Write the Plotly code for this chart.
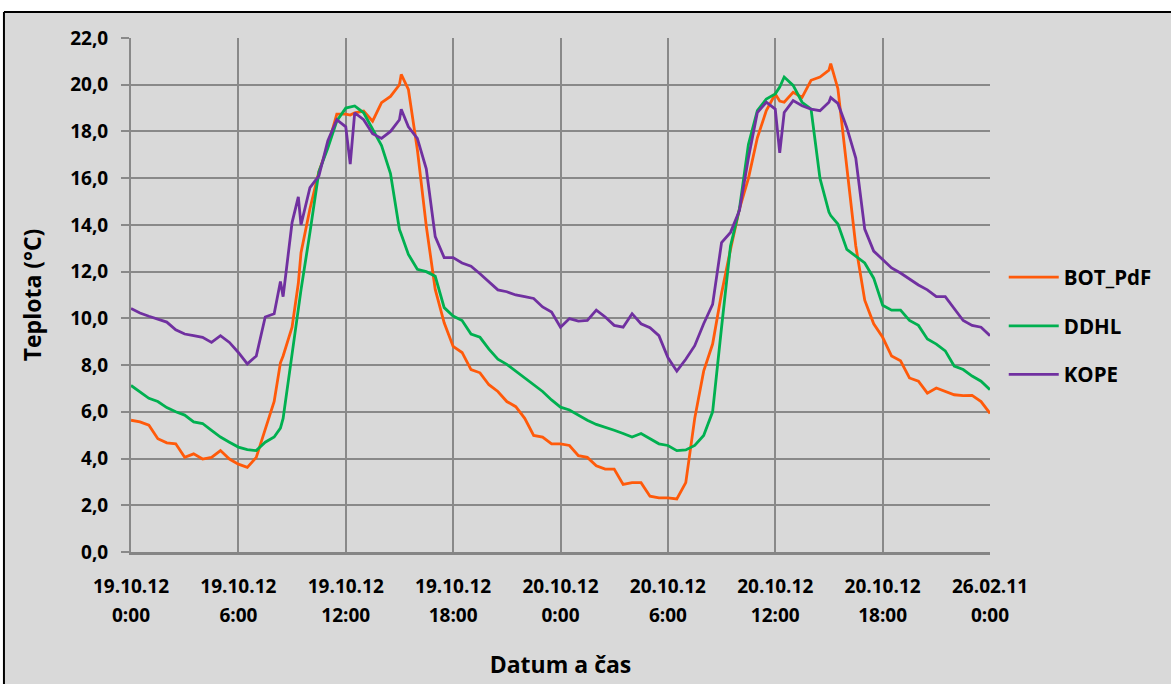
import plotly.graph_objects as go

# Measurement times in hours since 19.10.12 0:00 (half-hourly readings plus a few spikes)
HALF_HOURS = [h / 2 for h in range(97)]
EXTRA_HOURS = [8.35, 9.35, 12.25, 15.1, 36.25, 39.1]
HOURS = sorted(HALF_HOURS + EXTRA_HOURS)

BOT_PDF = [
    5.64, 5.57, 5.43, 4.85, 4.67, 4.63, 4.05, 4.20, 3.98, 4.05, 4.34, 3.98, 3.76, 3.62, 4.05, 5.21,
    6.44, 8.10, 8.39, 9.62, 11.50, 12.81, 14.69, 16.28, 17.37, 18.74, 18.74, 18.70, 18.80, 18.87,
    18.44, 19.23, 19.50, 20.00, 20.44, 19.80, 17.23, 13.95, 11.24, 9.81, 8.80, 8.54, 7.81, 7.67,
    7.16, 6.87, 6.44, 6.22, 5.72, 4.99, 4.92, 4.63, 4.63, 4.56, 4.12, 4.05, 3.69, 3.55, 3.55, 2.89,
    2.97, 2.97, 2.39, 2.32, 2.32, 2.27, 2.97, 5.72, 7.74, 8.90, 11.07, 12.95, 14.69, 15.99, 17.73,
    18.89, 19.60, 19.30, 19.25, 19.68, 19.46, 20.19, 20.33, 20.62, 20.90, 19.83, 16.57, 13.10,
    10.78, 9.77, 9.19, 8.39, 8.18, 7.45, 7.31, 6.80, 7.02, 6.87, 6.73, 6.69, 6.70, 6.44, 5.93,
]

DDHL = [
    7.13, 6.85, 6.58, 6.44, 6.18, 6.00, 5.86, 5.57, 5.50, 5.21, 4.92, 4.70, 4.49, 4.38, 4.34, 4.70,
    4.92, 5.30, 5.72, 8.47, 10.40, 11.22, 13.68, 16.28, 17.29, 18.45, 19.00, 19.05, 19.09, 18.80,
    18.09, 17.40, 16.20, 13.80, 13.60, 12.74, 12.10, 12.00, 11.80, 10.46, 10.10, 9.91, 9.33, 9.19,
    8.68, 8.25, 8.03, 7.74, 7.45, 7.16, 6.87, 6.51, 6.20, 6.08, 5.86, 5.64, 5.46, 5.35, 5.21, 5.07,
    4.92, 5.07, 4.85, 4.63, 4.56, 4.34, 4.37, 4.56, 4.99, 6.00, 9.62, 13.10, 14.69, 17.44, 18.89,
    19.39, 19.61, 19.90, 20.33, 19.97, 19.25, 18.96, 15.99, 14.55, 14.40, 14.04, 12.95, 12.66,
    12.37, 11.72, 10.56, 10.35, 10.35, 9.91, 9.70, 9.12, 8.90, 8.61, 7.96, 7.81, 7.53, 7.31, 6.95,
]

KOPE = [
    10.42, 10.23, 10.09, 9.96, 9.84, 9.51, 9.33, 9.26, 9.19, 8.97, 9.26, 8.97, 8.54, 8.05, 8.39,
    10.06, 10.20, 11.58, 10.93, 14.10, 15.20, 14.00, 15.60, 16.10, 17.60, 18.50, 18.20, 16.60,
    18.80, 18.50, 17.90, 17.70, 18.00, 18.50, 18.95, 18.20, 17.70, 16.40, 13.50, 12.60, 12.60,
    12.37, 12.23, 11.91, 11.58, 11.22, 11.14, 11.00, 10.93, 10.85, 10.49, 10.27, 9.62, 9.99, 9.88,
    9.91, 10.35, 10.06, 9.70, 9.62, 10.20, 9.77, 9.60, 9.26, 8.32, 7.74, 8.25, 8.83, 9.77, 10.60,
    13.24, 13.68, 14.62, 16.86, 18.81, 19.25, 18.96, 17.08, 18.81, 19.32, 19.10, 18.96, 18.89,
    19.25, 19.45, 19.20, 18.16, 16.86, 13.82, 12.88, 12.52, 12.16, 11.94, 11.69, 11.43, 11.22,
    10.93, 10.93, 10.42, 9.91, 9.70, 9.62, 9.26,
]

SERIES = [("BOT_PdF", BOT_PDF, "#FF5A0A"), ("DDHL", DDHL, "#00B050"), ("KOPE", KOPE, "#7030A0")]

TICK_HOURS = [0, 6, 12, 18, 24, 30, 36, 42, 48]
TICK_DATES = ["19.10.12", "19.10.12", "19.10.12", "19.10.12", "20.10.12",
              "20.10.12", "20.10.12", "20.10.12", "26.02.11"]
TICK_TIMES = ["0:00", "6:00", "12:00", "18:00", "0:00", "6:00", "12:00", "18:00", "0:00"]

FONT = "Open Sans, Lato, sans-serif"
GRID = "#898989"
BG = "#D9D9D9"

fig = go.Figure()
for i, (name, values, color) in enumerate(SERIES):
    assert len(values) == len(HOURS)
    fig.add_trace(go.Scatter(
        x=HOURS, y=values, name=name, mode="lines",
        line=dict(color=color, width=2.8),
        legendgroup=f"g{i}",
    ))

# empty trace that keeps the second (time-of-day) label row of the x axis alive
fig.add_trace(go.Scatter(
    x=TICK_HOURS, y=[None] * len(TICK_HOURS), xaxis="x2", yaxis="y",
    mode="lines", showlegend=False, hoverinfo="skip",
))

tick_font = dict(family=FONT, size=19, color="black", weight="bold")
title_font = dict(family=FONT, size=23, color="black", weight="bold")

fig.update_layout(
    width=1171, height=684,
    margin=dict(l=131, r=181, t=38, b=132),
    paper_bgcolor=BG, plot_bgcolor=BG,
    separators=", ",
    showlegend=True,
    legend=dict(
        x=1.016, y=0.44, xanchor="left", yanchor="middle",
        font=dict(family=FONT, size=20.5, color="black", weight="bold"),
        bgcolor="rgba(0,0,0,0)", tracegroupgap=19, itemwidth=50,
    ),
    xaxis=dict(
        range=[0, 48], tickmode="array", tickvals=TICK_HOURS, ticktext=TICK_DATES,
        showgrid=True, gridcolor=GRID, gridwidth=2, zeroline=False,
        showline=True, linecolor="#858585", linewidth=3,
        ticks="", ticklabelstandoff=15, tickfont=tick_font,
    ),
    xaxis2=dict(
        range=[0, 48], overlaying="x", anchor="y", side="bottom",
        tickmode="array", tickvals=TICK_HOURS, ticktext=TICK_TIMES,
        showgrid=False, zeroline=False, showline=False,
        ticks="", ticklabelstandoff=50, tickfont=tick_font,
        title=dict(text="Datum a čas", standoff=29, font=title_font),
    ),
    yaxis=dict(
        range=[0, 22], dtick=2, tickformat=".1f",
        showgrid=True, gridcolor=GRID, gridwidth=2, zeroline=False,
        showline=True, linecolor=GRID, linewidth=2,
        ticks="outside", ticklen=8, tickcolor=GRID, tickwidth=2,
        ticklabelstandoff=9, tickfont=tick_font,
        title=dict(text="Teplota (°C)", standoff=22, font=title_font),
    ),
    shapes=[
        dict(type="rect", xref="paper", yref="paper",
             x0=-0.2, x1=1.3, y0=1.0506, y1=1.2, fillcolor="white", line_width=0, layer="above"),
        dict(type="rect", xref="paper", yref="paper",
             x0=-0.2, x1=-0.1479, y0=-0.3, y1=1.2, fillcolor="white", line_width=0, layer="above"),
        dict(type="line", xref="paper", yref="paper",
             x0=-0.1479, x1=1.3, y0=1.0506, y1=1.0506, line=dict(color="black", width=2), layer="above"),
        dict(type="line", xref="paper", yref="paper",
             x0=-0.1479, x1=-0.1479, y0=-0.3, y1=1.0506, line=dict(color="black", width=2), layer="above"),
    ],
)

fig.write_html("out.html")
